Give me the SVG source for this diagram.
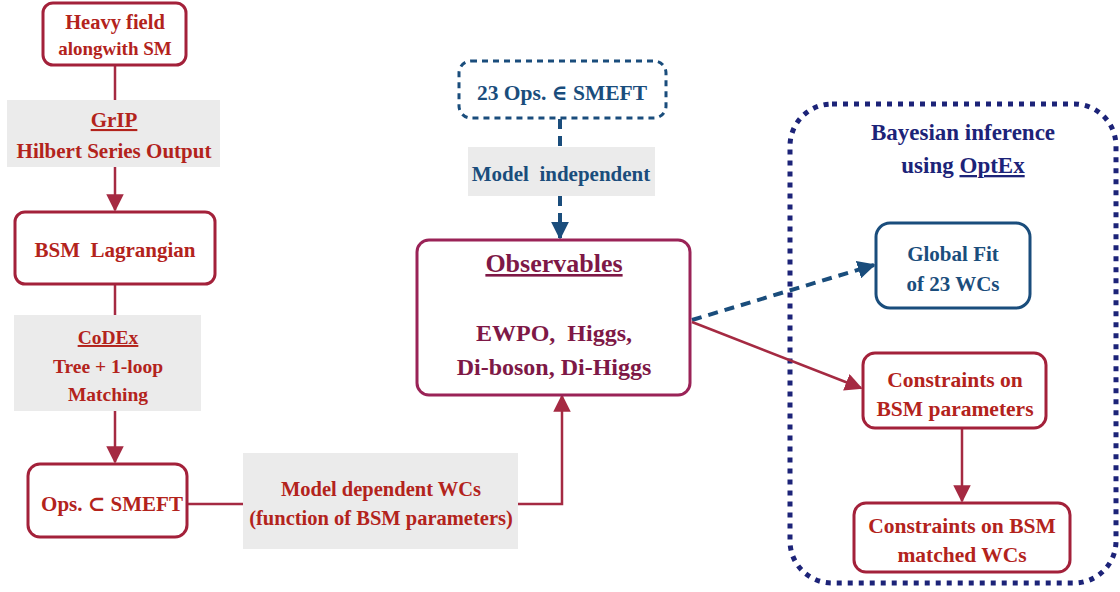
<svg xmlns="http://www.w3.org/2000/svg" width="1120" height="592" viewBox="0 0 1120 592">
<style>
text{font-family:"Liberation Serif","DejaVu Serif",serif;font-weight:bold;font-size:21px;text-anchor:middle}
.r{fill:#b3231c}
.m{fill:#7e1846}
.b{fill:#1a4d7c}
.n{fill:#1c2378}
.box{fill:#fff;stroke-width:3}
.rb{stroke:#a3213a}
.lab{fill:#ebebeb}
.cr{stroke:#a52a42;stroke-width:2.5;fill:none}
.cb{stroke:#1a4d7c;stroke-width:4;fill:none;stroke-dasharray:10,7}
</style>
<defs>
<marker id="arr" viewBox="0 0 10 10" refX="9" refY="5" markerWidth="7" markerHeight="7" orient="auto"><path d="M0,0 L10,5 L0,10 z" fill="#a52a42"/></marker>
<marker id="ab" viewBox="0 0 10 10" refX="9" refY="5" markerWidth="4.5" markerHeight="4.5" orient="auto"><path d="M0,0 L10,5 L0,10 z" fill="#1a4d7c"/></marker>
</defs>
<g id="bayes">
<rect x="790" y="104" width="326" height="479" rx="42" fill="none" stroke="#1c2378" stroke-width="5" stroke-dasharray="5,6"/>
<text class="n" x="963" y="140" style="font-size:23px">Bayesian inference</text>
<text class="n" x="963" y="173" style="font-size:23px">using <tspan text-decoration="underline">OptEx</tspan></text>
</g>
<g id="connectors">
<path class="cr" d="M115,65 V100"/>
<path class="cr" d="M115,167 V210" marker-end="url(#arr)"/>
<path class="cr" d="M115,284 V315"/>
<path class="cr" d="M115,411 V462" marker-end="url(#arr)"/>
<path class="cr" d="M187,504 H243"/>
<path class="cr" d="M518,504 H562 V396" marker-end="url(#arr)"/>
<path class="cb" d="M560,119 V147"/>
<path class="cb" d="M560,196 V238" marker-end="url(#ab)"/>
<path class="cb" d="M692,320 L874,265" marker-end="url(#ab)"/>
<path class="cr" d="M692,322 L861,388" marker-end="url(#arr)"/>
<path class="cr" d="M962,428 V501" marker-end="url(#arr)"/>
</g>
<g id="heavy">
<rect class="box rb" x="43" y="3" width="143" height="62" rx="10"/>
<text class="r" x="115" y="29" style="font-size:20.5px">Heavy field</text>
<text class="r" x="115" y="55" style="font-size:19px">alongwith SM</text>
</g>
<g id="grip">
<rect class="lab" x="7" y="100" width="213" height="67"/>
<text class="r" x="114" y="127" text-decoration="underline">GrIP</text>
<text class="r" x="114" y="158">Hilbert Series Output</text>
</g>
<g id="bsm">
<rect class="box rb" x="15" y="212" width="200" height="72" rx="10"/>
<text class="r" x="115" y="257" xml:space="preserve">BSM  Lagrangian</text>
</g>
<g id="codex">
<rect class="lab" x="14" y="315" width="187" height="96"/>
<text class="r" x="108" y="344" style="font-size:19.5px" text-decoration="underline">CoDEx</text>
<text class="r" x="108" y="373" style="font-size:19.5px">Tree + 1-loop</text>
<text class="r" x="108" y="401" style="font-size:19.5px">Matching</text>
</g>
<g id="ops">
<rect class="box rb" x="28" y="464" width="159" height="73" rx="12"/>
<text class="r" x="112" y="511">Ops. ⊂ SMEFT</text>
</g>
<g id="modeldep">
<rect class="lab" x="243" y="453" width="275" height="96"/>
<text class="r" x="381" y="496" style="font-size:20.5px">Model dependent WCs</text>
<text class="r" x="381" y="525" style="font-size:20.5px">(function of BSM parameters)</text>
</g>
<g id="ops23">
<rect x="459" y="61" width="207" height="57" rx="12" fill="#fff" stroke="#1a4d7c" stroke-width="3" stroke-dasharray="6,5"/>
<text class="b" x="562" y="100" style="font-size:21.5px">23 Ops. ∈ SMEFT</text>
</g>
<g id="modelindep">
<rect class="lab" x="468" y="147" width="187" height="49"/>
<text class="b" x="561" y="181" xml:space="preserve">Model  independent</text>
</g>
<g id="observables">
<rect class="box" x="417" y="240" width="273" height="155" rx="12" stroke="#9a2357"/>
<text class="m" x="554" y="272" style="font-size:26px" text-decoration="underline">Observables</text>
<text class="m" x="554" y="341" style="font-size:24px" xml:space="preserve">EWPO,  Higgs,</text>
<text class="m" x="554" y="375" style="font-size:24px">Di-boson, Di-Higgs</text>
</g>
<g id="globalfit">
<rect class="box" x="876" y="223" width="154" height="85" rx="14" stroke="#1a4d7c"/>
<text class="b" x="953" y="261">Global Fit</text>
<text class="b" x="953" y="291">of 23 WCs</text>
</g>
<g id="cbsm">
<rect class="box rb" x="863" y="353" width="183" height="75" rx="12"/>
<text class="r" x="955" y="387" style="font-size:21.5px">Constraints on</text>
<text class="r" x="955" y="416" style="font-size:21.5px">BSM parameters</text>
</g>
<g id="cwc">
<rect class="box rb" x="854" y="503" width="216" height="69" rx="12"/>
<text class="r" x="962" y="533" style="font-size:21.5px">Constraints on BSM</text>
<text class="r" x="962" y="562" style="font-size:21.5px">matched WCs</text>
</g>
</svg>
